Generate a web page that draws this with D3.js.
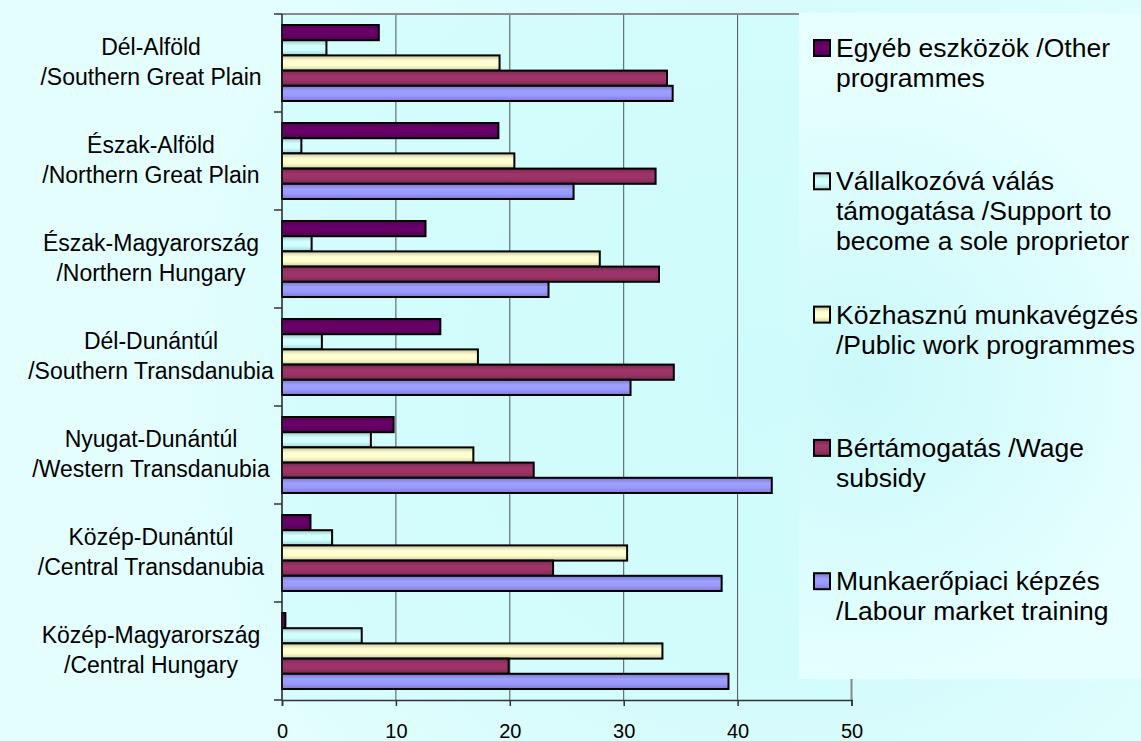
<!DOCTYPE html>
<html>
<head>
<meta charset="utf-8">
<script src="https://cdn.jsdelivr.net/npm/d3@7"></script>
<style>
  html, body { margin: 0; padding: 0; }
  body { width: 1141px; height: 741px; overflow: hidden; }
  text { font-family: "Liberation Sans", Arial, sans-serif; fill: #000; }
</style>
</head>
<body>
<div id="chart"></div>
<script>
// regions, top to bottom
const regionsHu = ["Dél-Alföld", "Észak-Alföld", "Észak-Magyarország", "Dél-Dunántúl",
                   "Nyugat-Dunántúl", "Közép-Dunántúl", "Közép-Magyarország"];
const regionsEn = ["/Southern Great Plain", "/Northern Great Plain", "/Northern Hungary",
                   "/Southern Transdanubia", "/Western Transdanubia", "/Central Transdanubia",
                   "/Central Hungary"];

// series, in the order the bars are stacked inside each group (top first)
const seriesKeys = ["egyeb", "vallalkozo", "kozhasznu", "bertam", "kepzes"];
const seriesLabels = [
  ["Egyéb eszközök /Other", "programmes"],
  ["Vállalkozóvá válás", "támogatása /Support to", "become a sole proprietor"],
  ["Közhasznú munkavégzés", "/Public work programmes"],
  ["Bértámogatás /Wage", "subsidy"],
  ["Munkaerőpiaci képzés", "/Labour market training"]
];
const seriesColors = ["#660066", "#ccffff", "#ffffcc", "#993366", "#9999ff"];

const egyeb      = [8.5, 19.0, 12.6, 13.9, 9.8, 2.5, 0.3];
const vallalkozo = [3.9, 1.7, 2.6, 3.5, 7.8, 4.4, 7.0];
const kozhasznu  = [19.1, 20.4, 27.9, 17.2, 16.8, 30.3, 33.4];
const bertam     = [33.8, 32.8, 33.1, 34.4, 22.1, 23.8, 19.9];
const kepzes     = [34.3, 25.6, 23.4, 30.6, 43.0, 38.6, 39.2];

const xTicks = [0, 10, 20, 30, 40, 50];

const seriesValues = { egyeb, vallalkozo, kozhasznu, bertam, kepzes };

const W = 1141, H = 741;
const plot = { left: 282, right: 851.5, top: 14, bottom: 700 };

const svg = d3.select("#chart").append("svg")
    .attr("width", W)
    .attr("height", H);

const defs = svg.append("defs");

// page background (soft radial cyan)
const bgGrad = defs.append("radialGradient")
    .attr("id", "bg")
    .attr("gradientUnits", "userSpaceOnUse")
    .attr("cx", 760).attr("cy", 380).attr("r", 620);
bgGrad.append("stop").attr("offset", "0%").attr("stop-color", "#c6f8f9");
bgGrad.append("stop").attr("offset", "100%").attr("stop-color", "#e4fefe");

// legend background, a lighter version of the same glow
const lgGrad = defs.append("radialGradient")
    .attr("id", "lg")
    .attr("gradientUnits", "userSpaceOnUse")
    .attr("cx", 860).attr("cy", 380).attr("r", 330);
lgGrad.append("stop").attr("offset", "0%").attr("stop-color", "#cbf9fa");
lgGrad.append("stop").attr("offset", "100%").attr("stop-color", "#e8ffff");

// bar gradients - darker at the edges, lighter in the middle
seriesColors.forEach((c, i) => {
    const g = defs.append("linearGradient")
        .attr("id", "bar" + i)
        .attr("x1", 0).attr("y1", 0).attr("x2", 0).attr("y2", 1);
    const base = d3.color(c);
    g.append("stop").attr("offset", "0%").attr("stop-color", base.darker(0.7));
    g.append("stop").attr("offset", "35%").attr("stop-color", base.brighter(0.12));
    g.append("stop").attr("offset", "65%").attr("stop-color", base);
    g.append("stop").attr("offset", "100%").attr("stop-color", base.darker(0.6));
});

svg.append("rect")
    .attr("width", W).attr("height", H)
    .attr("fill", "url(#bg)");

// scales
const x = d3.scaleLinear()
    .domain([0, 50])
    .range([plot.left, plot.right]);

const y0 = d3.scaleBand()
    .domain(regionsHu)
    .range([plot.top, plot.bottom])
    .padding(0);

const y1 = d3.scaleBand()
    .domain(seriesKeys)
    .range([11, y0.bandwidth() - 11]);

// plot area
svg.append("rect")
    .attr("x", plot.left).attr("y", plot.top)
    .attr("width", plot.right - plot.left)
    .attr("height", plot.bottom - plot.top)
    .attr("fill", "#d2fcfc")
    .attr("fill-opacity", 0.75);

// vertical gridlines
svg.append("g")
    .selectAll("line")
    .data(xTicks.filter(d => d > 0 && d < 50))
    .join("line")
    .attr("x1", d => x(d)).attr("x2", d => x(d))
    .attr("y1", plot.top).attr("y2", plot.bottom)
    .attr("stroke", "#4d5555")
    .attr("stroke-width", 1);

// plot border (top and right, grey)
svg.append("path")
    .attr("d", `M${plot.left},${plot.top}H${plot.right}V${plot.bottom}`)
    .attr("fill", "none")
    .attr("stroke", "#8a8a8a")
    .attr("stroke-width", 2);

// bars
const groups = svg.append("g")
    .selectAll("g")
    .data(regionsHu)
    .join("g")
    .attr("transform", d => `translate(0,${y0(d)})`);

groups.selectAll("rect")
    .data((d, i) => seriesKeys.map((k, j) => ({ key: k, idx: j, value: seriesValues[k][i] })))
    .join("rect")
    .attr("x", x(0))
    .attr("y", d => y1(d.key))
    .attr("width", d => x(d.value) - x(0))
    .attr("height", y1.bandwidth())
    .attr("fill", d => `url(#bar${d.idx})`)
    .attr("stroke", "#000")
    .attr("stroke-width", 2);

// x axis
const xAxis = d3.axisBottom(x)
    .tickValues(xTicks)
    .tickSize(6)
    .tickPadding(18)
    .tickFormat(d3.format("d"));

const xAxisGroup = svg.append("g")
    .attr("transform", `translate(0,${plot.bottom})`)
    .call(xAxis);

xAxisGroup.select(".domain")
    .attr("stroke", "#333")
    .attr("stroke-width", 1.5);
xAxisGroup.selectAll(".tick line")
    .attr("stroke", "#333")
    .attr("stroke-width", 1.5);
xAxisGroup.selectAll("text")
    .style("font-size", "20px")
    .style("font-family", "'Liberation Sans', Arial, sans-serif")
    .attr("fill", "#000");

// y axis: line plus ticks on the band boundaries
const yAxisGroup = svg.append("g");
yAxisGroup.append("line")
    .attr("x1", plot.left).attr("x2", plot.left)
    .attr("y1", plot.top).attr("y2", plot.bottom)
    .attr("stroke", "#222")
    .attr("stroke-width", 1.5);
yAxisGroup.selectAll(".ytick")
    .data(regionsHu.map(d => y0(d)).concat([y0.range()[1]]))
    .join("line")
    .attr("class", "ytick")
    .attr("x1", plot.left - 8).attr("x2", plot.left)
    .attr("y1", d => d).attr("y2", d => d)
    .attr("stroke", "#333")
    .attr("stroke-width", 1.5);

// category labels (two lines, centred)
const catLabels = svg.append("g")
    .selectAll("text")
    .data(regionsHu)
    .join("text")
    .attr("text-anchor", "middle")
    .style("font-size", "23px");
catLabels.append("tspan")
    .attr("x", 151)
    .attr("y", d => y0(d) + y0.bandwidth() / 2 - 8)
    .text(d => d);
catLabels.append("tspan")
    .attr("x", 151)
    .attr("y", (d, i) => y0(d) + y0.bandwidth() / 2 + 22)
    .text((d, i) => regionsEn[i]);

// legend box (opaque, hides the right part of the plot border)
svg.append("rect")
    .attr("x", 799).attr("y", plot.top - 1)
    .attr("width", W - 799).attr("height", 679 - plot.top + 1)
    .attr("fill", "url(#lg)");

const legend = svg.append("g")
    .selectAll("g")
    .data(seriesKeys)
    .join("g")
    .attr("transform", (d, i) => `translate(0,${57 + i * 133.3})`);

legend.append("rect")
    .attr("x", 814).attr("y", -17)
    .attr("width", 16).attr("height", 16)
    .attr("fill", (d, i) => `url(#bar${i})`)
    .attr("stroke", "#000")
    .attr("stroke-width", 2);

legend.append("text")
    .style("font-size", "26.5px")
    .selectAll("tspan")
    .data((d, i) => seriesLabels[i])
    .join("tspan")
    .attr("x", 836)
    .attr("y", (d, j) => j * 30)
    .text(d => d);
</script>
</body>
</html>
